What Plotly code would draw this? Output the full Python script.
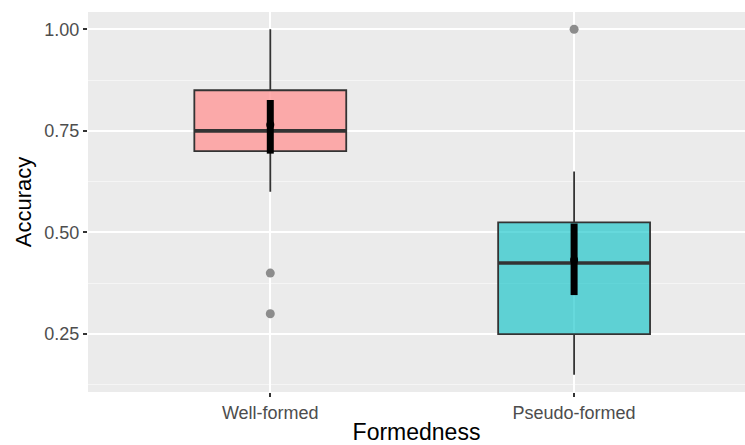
import plotly.graph_objects as go

# ---- data ----
categories = ["Well-formed", "Pseudo-formed"]
positions = [1, 2]
q1 = [0.70, 0.25]
median = [0.75, 0.425]
q3 = [0.85, 0.525]
lower_whisker = [0.60, 0.15]
upper_whisker = [1.00, 0.65]
outliers = [[0.40, 0.30], [1.00]]
means = [0.765, 0.432]
ci_low = [0.694, 0.346]
ci_high = [0.826, 0.522]
fills = ["rgba(255,150,150,0.78)", "rgba(0,191,196,0.6)"]

box_width = 0.5
TEXT_FONT = "Liberation Sans, Arial, Helvetica, sans-serif"

fig = go.Figure()

for i, cat in enumerate(categories):
    fig.add_trace(go.Box(
        x=[positions[i]], q1=[q1[i]], median=[median[i]], q3=[q3[i]],
        lowerfence=[lower_whisker[i]], upperfence=[upper_whisker[i]],
        width=box_width, whiskerwidth=0,
        fillcolor=fills[i], line=dict(color="#333333", width=1.8),
        boxpoints=False, showlegend=False, hoverinfo="skip", name=cat,
    ))
    # thicker median line
    fig.add_trace(go.Scatter(
        x=[positions[i] - box_width / 2, positions[i] + box_width / 2],
        y=[median[i], median[i]], mode="lines",
        line=dict(color="#333333", width=3.6), showlegend=False, hoverinfo="skip",
    ))
    # outliers
    fig.add_trace(go.Scatter(
        x=[positions[i]] * len(outliers[i]), y=outliers[i], mode="markers",
        marker=dict(color="#8C8C8C", size=9), showlegend=False, hoverinfo="skip",
    ))

# means with CI
fig.add_trace(go.Scatter(
    x=positions, y=means, mode="markers",
    marker=dict(color="black", size=8),
    error_y=dict(type="data", symmetric=False,
                 array=[h - m for h, m in zip(ci_high, means)],
                 arrayminus=[m - l for m, l in zip(means, ci_low)],
                 color="black", thickness=7, width=0),
    showlegend=False, hoverinfo="skip",
))

fig.update_layout(
    width=745, height=445,
    margin=dict(l=88, r=0, t=12, b=53),
    paper_bgcolor="white", plot_bgcolor="#EBEBEB",
    font=dict(family=TEXT_FONT, color="#4D4D4D"),
)
fig.update_xaxes(
    range=[0.4, 2.5625], tickvals=positions, ticktext=categories,
    showgrid=True, gridcolor="white", gridwidth=1.8, zeroline=False,
    ticks="outside", ticklen=4, tickwidth=1.5, tickcolor="#333333",
    tickfont=dict(size=18, color="#4D4D4D", family=TEXT_FONT),
    title=dict(text="Formedness", font=dict(size=23, color="black", family=TEXT_FONT), standoff=2),
)
fig.update_yaxes(
    range=[0.1075, 1.0425], tick0=0.25, dtick=0.25, tickformat=".2f",
    showgrid=True, gridcolor="white", gridwidth=1.8, zeroline=False,
    minor=dict(showgrid=True, gridcolor="#F5F5F5", gridwidth=0.9, tick0=0.125, dtick=0.25),
    ticks="outside", ticklen=4, tickwidth=1.5, tickcolor="#333333",
    tickfont=dict(size=18, color="#4D4D4D", family=TEXT_FONT),
    title=dict(text="Accuracy", font=dict(size=22, color="black", family=TEXT_FONT), standoff=6),
)

fig.write_html("out.html")
